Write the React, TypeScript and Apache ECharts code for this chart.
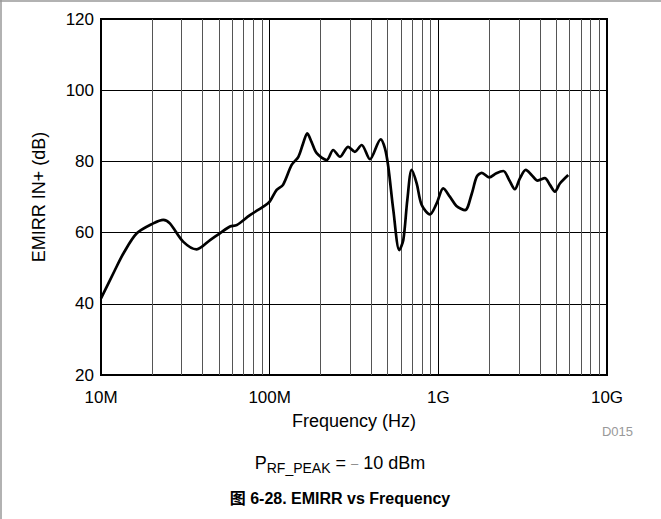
import React, { useEffect, useRef } from "react";
import * as echarts from "echarts";

const freqHz = [
  1.0e7, 1.21e7, 1.36e7, 1.63e7, 2.04e7, 2.34e7, 2.56e7, 3.08e7, 3.69e7, 4.43e7,
  5.07e7, 5.82e7, 6.37e7, 7.64e7, 9.16e7, 1.0e8, 1.1e8, 1.2e8, 1.35e8, 1.48e8,
  1.58e8, 1.67e8, 1.77e8, 1.9e8, 2.18e8, 2.38e8, 2.61e8, 2.92e8, 3.2e8, 3.51e8,
  3.93e8, 4.55e8, 4.82e8, 5.05e8, 5.41e8, 5.87e8, 6.2e8, 6.55e8, 6.95e8, 7.44e8,
  7.96e8, 8.91e8, 9.77e8, 1.07e9, 1.17e9, 1.28e9, 1.44e9, 1.58e9, 1.69e9, 1.81e9,
  2.0e9, 2.21e9, 2.43e9, 2.63e9, 2.84e9, 3.05e9, 3.3e9, 3.57e9, 3.88e9, 4.28e9,
  4.59e9, 4.91e9, 5.26e9, 5.89e9,
];
const emirrDb = [
  41.5, 49.5, 54.2, 59.8, 62.6, 63.6, 62.6, 57.4, 55.3, 57.9,
  59.8, 61.7, 62.1, 64.9, 67.3, 68.7, 72.0, 73.4, 79.0, 81.3,
  85.1, 87.9, 85.5, 82.3, 80.4, 83.2, 81.3, 84.1, 82.7, 84.6,
  80.6, 86.2, 83.7, 78.5, 66.3, 55.1, 57.9, 69.2, 77.6, 73.8,
  67.8, 65.1, 68.2, 72.4, 70.1, 67.5, 66.3, 71.0, 75.7, 76.8,
  75.5, 76.7, 77.3, 74.8, 72.2, 75.3, 77.6, 76.2, 74.6, 75.3,
  73.4, 71.5, 73.8, 76.2,
];
const xTickValues = [1e7, 1e8, 1e9, 1e10];
const xTickLabels = ["10M", "100M", "1G", "10G"];
const xMinorLines = [
  2e7, 3e7, 4e7, 5e7, 6e7, 7e7, 8e7, 9e7,
  2e8, 3e8, 4e8, 5e8, 6e8, 7e8, 8e8, 9e8,
  2e9, 3e9, 4e9, 5e9, 6e9, 7e9, 8e9, 9e9,
];
const yMin = 20;
const yMax = 120;
const yStep = 20;

const FONT = "'Liberation Sans', Arial, 'Noto Sans CJK SC', sans-serif";

export default function App() {
  const ref = useRef<HTMLDivElement>(null);
  useEffect(() => {
    if (!ref.current) return;
    const chart = echarts.init(ref.current, undefined, { renderer: "svg" });
    const fmtX = (v: number) => {
      for (let i = 0; i < xTickValues.length; i++) {
        if (Math.abs(Math.log10(v) - Math.log10(xTickValues[i])) < 1e-6) return xTickLabels[i];
      }
      return "";
    };
    chart.setOption({
      animation: false,
      backgroundColor: "#fff",
      textStyle: { fontFamily: FONT },
      grid: {
        left: 101,
        right: 54,
        top: 19,
        bottom: 144,
        show: true,
        borderColor: "#000",
        borderWidth: 2,
        backgroundColor: "transparent",
      },
      xAxis: {
        type: "log",
        logBase: 10,
        min: 1e7,
        max: 1e10,
        axisLine: { show: true, lineStyle: { color: "#000", width: 2 } },
        axisTick: { show: false },
        splitLine: { show: true, lineStyle: { color: "#000", width: 1 } },
        axisLabel: {
          formatter: fmtX,
          color: "#000",
          fontSize: 17,
          margin: 14,
          fontFamily: FONT,
        },
        name: "Frequency (Hz)",
        nameLocation: "middle",
        nameGap: 37,
        nameTextStyle: { color: "#000", fontSize: 18, fontFamily: FONT },
      },
      yAxis: {
        type: "value",
        min: yMin,
        max: yMax,
        interval: yStep,
        axisLine: { show: true, lineStyle: { color: "#000", width: 2 } },
        axisTick: { show: false },
        splitLine: { show: true, lineStyle: { color: "#000", width: 1 } },
        axisLabel: { color: "#000", fontSize: 17, margin: 7, fontFamily: FONT },
        name: "EMIRR IN+ (dB)",
        nameLocation: "middle",
        nameGap: 53,
        nameTextStyle: { color: "#000", fontSize: 18, fontFamily: FONT },
      },
      series: [
        {
          type: "line",
          data: freqHz.map((f, i) => [f, emirrDb[i]]),
          showSymbol: false,
          smooth: 0.3,
          lineStyle: { color: "#000", width: 2.7 },
          z: 5,
          markLine: {
            silent: true,
            symbol: ["none", "none"],
            label: { show: false },
            lineStyle: { type: "solid", color: "#555", width: 1 },
            emphasis: { disabled: true },
            data: xMinorLines.map((v) => ({ xAxis: v })),
            z: 1,
          },
        },
      ],
      graphic: [
        {
          type: "line",
          shape: { x1: 0, y1: 1, x2: 661, y2: 1 },
          style: { stroke: "#999", lineWidth: 1.5 },
        },
        {
          type: "line",
          shape: { x1: 1, y1: 0, x2: 1, y2: 519 },
          style: { stroke: "#999", lineWidth: 1.5 },
        },
        {
          type: "text",
          x: 633,
          y: 431,
          style: {
            text: "D015",
            fontSize: 13,
            fontFamily: FONT,
            fill: "#999",
            align: "right",
            verticalAlign: "middle",
          },
        },
        {
          type: "text",
          x: 340,
          y: 463,
          style: {
            text: "{a|P}{s|RF_PEAK}{a| = }{m|–}{a| 10 dBm}",
            fontFamily: FONT,
            align: "center",
            verticalAlign: "middle",
            rich: {
              a: { fontSize: 18, fontFamily: FONT, fill: "#000", lineHeight: 24, verticalAlign: "middle" },
              s: { fontSize: 14, fontFamily: FONT, fill: "#000", lineHeight: 14, verticalAlign: "bottom" },
              m: { fontSize: 13, fontFamily: FONT, fill: "#888", lineHeight: 24, verticalAlign: "middle" },
            },
          },
        },
        {
          type: "text",
          x: 340,
          y: 498,
          style: {
            text: "图 6-28. EMIRR vs Frequency",
            fontSize: 16,
            fontWeight: "bold",
            fontFamily: FONT,
            fill: "#000",
            align: "center",
            verticalAlign: "middle",
          },
        },
      ],
    });
    return () => chart.dispose();
  }, []);
  return (
    <div
      ref={ref}
      style={{ position: "absolute", left: 0, top: 0, width: 661, height: 519 }}
    />
  );
}
